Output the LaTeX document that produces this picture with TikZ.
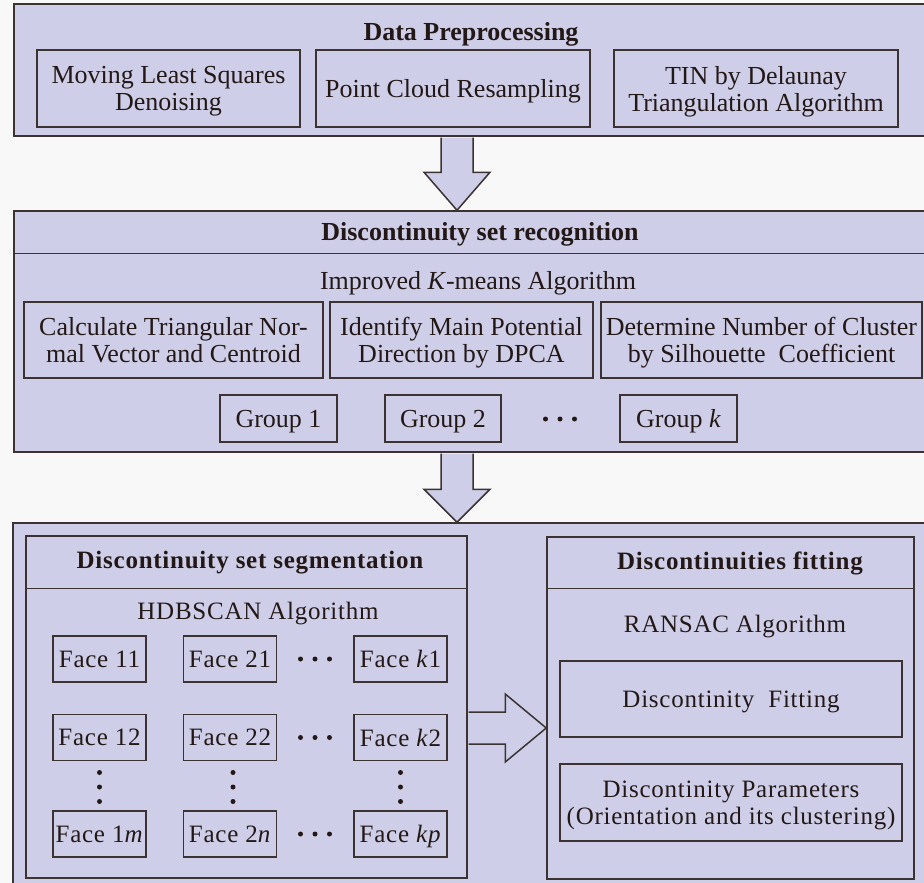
\documentclass[tikz,border=0pt]{standalone}
\usepackage{fontspec}
\setmainfont{Liberation Serif}
\newfontfamily\facefont[LetterSpace=3]{Liberation Serif}
\usetikzlibrary{calc}

\definecolor{boxfill}{RGB}{206,206,232}
\definecolor{boxline}{RGB}{60,50,50}
\definecolor{inkcol}{RGB}{35,24,22}
\definecolor{paper}{RGB}{248,248,248}

\tikzset{
  box/.style={draw=boxline, line width=1.5pt, fill=boxfill, inner sep=0pt, align=center,
    text=inkcol, text depth=0pt, font=\fontsize{26}{27}\selectfont},
  facebox/.style={box, minimum width=93, minimum height=46, font=\facefont\fontsize{25}{27}\selectfont},
  txt/.style={text=inkcol, inner sep=0pt, align=center, font=\fontsize{26}{27}\selectfont},
  facetxt/.style={txt, font=\facefont\fontsize{25}{27}\selectfont},
  dot/.style={fill=inkcol},
  blockarrow/.style={draw=boxline, line width=1.5pt, fill=boxfill, line join=miter}
}

\begin{document}
\begin{tikzpicture}[x=1pt,y=-1pt]
    \clip (0,0) rectangle (924,883);
    \fill[paper] (0,0) rectangle (924,883);

    % data preprocessing
    \node[box, minimum width=916, minimum height=132] (prep) at (472,70) {};
    \node[txt, font=\bfseries\fontsize{26}{27}\selectfont] (preptitle) at (471,34) {Data Preprocessing};
    \node[box, minimum width=263, minimum height=77] (mls) at (168.5,88.5) {Moving Least Squares\\Denoising};
    \node[box, minimum width=274, minimum height=77] (pcr) at (453,88.5) {Point Cloud Resampling};
    \node[box, minimum width=284, minimum height=77] (tin) at (756,88.5) {TIN by Delaunay\\Triangulation Algorithm};

    % discontinuity set recognition
    \node[box, minimum width=916, minimum height=241] (recog) at (472,331.5) {};
    \draw[boxline, line width=1.5pt] ($(recog.north west)+(0,43)$) -- ($(recog.north east)+(0,43)$);
    \node[txt, font=\bfseries\fontsize{26}{27}\selectfont] (recogtitle) at (480,234) {Discontinuity set recognition};
    \node[txt] (kmeans) at (478,283) {Improved \textit{K}-means Algorithm};
    \node[box, minimum width=299, minimum height=76] (ctn) at (173.5,340) {Calculate Triangular Nor-\\mal Vector and Centroid};
    \node[box, minimum width=263, minimum height=76] (idp) at (461.5,340) {Identify Main Potential\\Direction by DPCA};
    \node[box, minimum width=321, minimum height=76] (dnc) at (761.5,340) {Determine Number of Cluster\\by Silhouette~ Coefficient};
    \node[box, minimum width=117, minimum height=47] (g1) at (278.5,418.5) {Group 1};
    \node[box, minimum width=116, minimum height=47] (g2) at (443,418.5) {Group 2};
    \coordinate (gdots) at (560,419);
    \fill[dot] ($(gdots)+(-14.5,0)$) circle (2.5) (gdots) circle (2.5) ($(gdots)+(14.5,0)$) circle (2.5);
    \node[box, minimum width=117, minimum height=47] (gk) at (678.5,418.5) {Group \textit{k}};

    % segmentation and fitting
    \node[box, minimum width=917, minimum height=372] (segfit) at (471.5,709) {};
    \node[box, minimum width=441, minimum height=342] (seg) at (246.5,707) {};
    \draw[boxline, line width=1.5pt] ($(seg.north west)+(0,53)$) -- ($(seg.north east)+(0,53)$);
    \node[facetxt, font=\facefont\bfseries\fontsize{25}{27}\selectfont] (segtitle) at (250,563) {Discontinuity set segmentation};
    \node[facetxt] (hdb) at (258,614) {HDBSCAN Algorithm};

    \node[facebox] (f11) at (99.5,659) {Face 11};
    \node[facebox] (f21) at (230,659) {Face 21};
    \node[facebox] (fk1) at (400.5,659) {Face \textit{k}1};
    \node[facebox] (f12) at (99.5,737.5) {Face 12};
    \node[facebox] (f22) at (230,737.5) {Face 22};
    \node[facebox] (fk2) at (400.5,737.5) {Face \textit{k}2};
    \node[facebox] (f1m) at (99.5,834) {Face 1\textit{m}};
    \node[facebox] (f2n) at (230,834) {Face 2\textit{n}};
    \node[facebox] (fkp) at (400.5,834) {Face \textit{kp}};

    \coordinate (rdots1) at (315,659);
    \coordinate (rdots2) at (315,737.5);
    \coordinate (rdots3) at (315,834);
    \fill[dot] ($(rdots1)+(-14.5,0)$) circle (2.5) (rdots1) circle (2.5) ($(rdots1)+(14.5,0)$) circle (2.5);
    \fill[dot] ($(rdots2)+(-14.5,0)$) circle (2.5) (rdots2) circle (2.5) ($(rdots2)+(14.5,0)$) circle (2.5);
    \fill[dot] ($(rdots3)+(-14.5,0)$) circle (2.5) (rdots3) circle (2.5) ($(rdots3)+(14.5,0)$) circle (2.5);
    \coordinate (cdots1) at (99.5,787);
    \coordinate (cdots2) at (233,787);
    \coordinate (cdots3) at (400.5,787);
    \fill[dot] ($(cdots1)+(0,-14.5)$) circle (2.5) (cdots1) circle (2.5) ($(cdots1)+(0,14.5)$) circle (2.5);
    \fill[dot] ($(cdots2)+(0,-14.5)$) circle (2.5) (cdots2) circle (2.5) ($(cdots2)+(0,14.5)$) circle (2.5);
    \fill[dot] ($(cdots3)+(0,-14.5)$) circle (2.5) (cdots3) circle (2.5) ($(cdots3)+(0,14.5)$) circle (2.5);

    \node[box, minimum width=367, minimum height=342] (fit) at (730.5,708) {};
    \draw[boxline, line width=1.5pt] ($(fit.north west)+(0,52)$) -- ($(fit.north east)+(0,52)$);
    \node[facetxt, font=\facefont\bfseries\fontsize{25}{27}\selectfont] (fittitle) at (740,563) {Discontinuities fitting};
    \node[facetxt] (ransac) at (735,627) {RANSAC Algorithm};
    \node[facebox, minimum width=342, minimum height=76] (dfit) at (731,699) {Discontinity~ Fitting};
    \node[facebox, minimum width=342, minimum height=77] (dpar) at (731,802.5) {Discontinity Parameters\\(Orientation and its clustering)};

    % block arrows
    \coordinate (ax) at (457,0);
    \coordinate (ay) at (0,728);
    \draw[blockarrow] ($(ax |- prep.south)+(-16,0.75)$) -- ($(ax |- recog.north)+(-16,-38)$)
        -- ($(ax |- recog.north)+(-33,-38)$) -- (ax |- recog.north)
        -- ($(ax |- recog.north)+(33,-38)$) -- ($(ax |- recog.north)+(16,-38)$)
        -- ($(ax |- prep.south)+(16,0.75)$);
    \draw[blockarrow] ($(ax |- recog.south)+(-16,0.75)$) -- ($(ax |- segfit.north)+(-16,-33)$)
        -- ($(ax |- segfit.north)+(-33,-33)$) -- (ax |- segfit.north)
        -- ($(ax |- segfit.north)+(33,-33)$) -- ($(ax |- segfit.north)+(16,-33)$)
        -- ($(ax |- recog.south)+(16,0.75)$);
    \draw[blockarrow] ($(seg.east |- ay)+(0.75,-16)$) -- ($(fit.west |- ay)+(-41,-16)$)
        -- ($(fit.west |- ay)+(-41,-34)$) -- (fit.west |- ay)
        -- ($(fit.west |- ay)+(-41,34)$) -- ($(fit.west |- ay)+(-41,16)$)
        -- ($(seg.east |- ay)+(0.75,16)$);
\end{tikzpicture}
\end{document}
